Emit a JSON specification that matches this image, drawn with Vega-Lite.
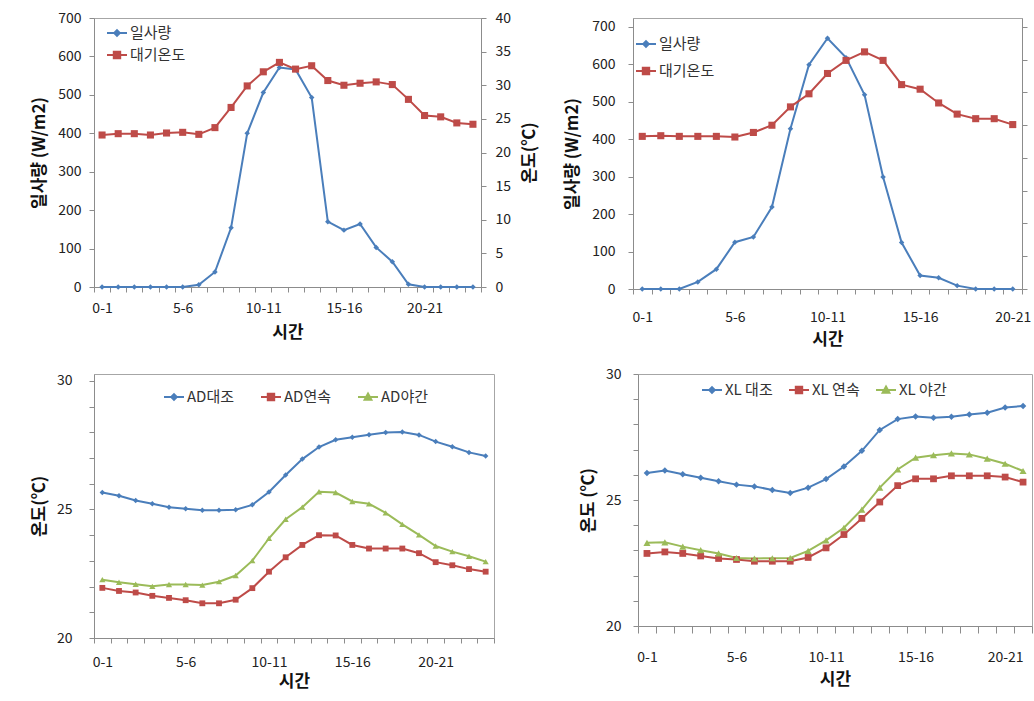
{
  "$schema": "https://vega.github.io/schema/vega-lite/v6.json",
  "background": "white",
  "padding": {"left": 29, "top": 10, "right": 0, "bottom": 0},
  "config": {
    "font": "Noto Sans CJK KR",
    "view": {"stroke": "#a6a6a6", "strokeWidth": 1},
    "axis": {
      "grid": false,
      "domainColor": "#8c8c8c",
      "tickColor": "#8c8c8c",
      "labelColor": "#222222",
      "labelFont": "Noto Sans CJK KR",
      "labelFontSize": 14,
      "titleFont": "Noto Sans CJK KR",
      "titleFontSize": 17,
      "titleFontWeight": "bold",
      "titleColor": "#111111",
      "tickSize": 5
    },
    "legend": {
      "labelFont": "Noto Sans CJK KR",
      "labelFontSize": 15,
      "labelColor": "#333333",
      "symbolSize": 400,
      "symbolStrokeWidth": 2,
      "labelOffset": 2
    }
  },
  "spacing": 18,
  "resolve": {"scale": {"color": "independent"}, "legend": {"color": "independent"}},
  "vconcat": [
    {
      "spacing": 24,
      "resolve": {"scale": {"color": "independent"}, "legend": {"color": "independent"}},
      "hconcat": [
        {
          "width": 387,
          "height": 269,
          "data": {"values": [
            {"t": "0-1", "rad": 0, "temp": 22.6},
            {"t": "1-2", "rad": 0, "temp": 22.8},
            {"t": "2-3", "rad": 0, "temp": 22.8},
            {"t": "3-4", "rad": 0, "temp": 22.6},
            {"t": "4-5", "rad": 0, "temp": 22.9},
            {"t": "5-6", "rad": 0, "temp": 23.0},
            {"t": "6-7", "rad": 6, "temp": 22.7},
            {"t": "7-8", "rad": 39, "temp": 23.7},
            {"t": "8-9", "rad": 154, "temp": 26.7},
            {"t": "9-10", "rad": 400, "temp": 29.9},
            {"t": "10-11", "rad": 506, "temp": 32.0},
            {"t": "11-12", "rad": 571, "temp": 33.4},
            {"t": "12-13", "rad": 566, "temp": 32.4},
            {"t": "13-14", "rad": 493, "temp": 32.9},
            {"t": "14-15", "rad": 170, "temp": 30.7},
            {"t": "15-16", "rad": 148, "temp": 30.0},
            {"t": "16-17", "rad": 164, "temp": 30.3},
            {"t": "17-18", "rad": 103, "temp": 30.5},
            {"t": "18-19", "rad": 66, "temp": 30.1},
            {"t": "19-20", "rad": 7, "temp": 27.9},
            {"t": "20-21", "rad": 0, "temp": 25.5},
            {"t": "21-22", "rad": 0, "temp": 25.3},
            {"t": "22-23", "rad": 0, "temp": 24.4},
            {"t": "23-24", "rad": 0, "temp": 24.2}
          ]},
          "encoding": {
            "x": {
              "field": "t", "type": "ordinal", "sort": null, "bandPosition": 0.5,
              "scale": {"type": "band", "paddingInner": 0, "paddingOuter": 0},
              "title": "시간",
              "axis": {"tickBand": "extent", "labelAngle": 0, "labelOverlap": false, "labelPadding": 9, "titlePadding": 9,
                "labelExpr": "indexof(['0-1','5-6','10-11','15-16','20-21'], datum.label) >= 0 ? datum.label : ''"}
            }
          },
          "layer": [
            {
              "encoding": {
                "y": {"field": "rad", "type": "quantitative", "scale": {"domain": [0, 700]}, "title": "일사량 (W/m2)",
                  "axis": {"values": [0, 100, 200, 300, 400, 500, 600, 700], "labelPadding": 8, "titlePadding": 9}},
                "color": {"datum": "일사량", "type": "nominal",
                  "scale": {"domain": ["일사량", "대기온도"], "range": ["#4a7ebb", "#be4b48"]},
                  "legend": {"title": null, "orient": "none", "legendX": 12, "legendY": 4, "rowPadding": 3,
                    "encode": {"symbols": {"update": {
                      "shape": {"signal": "datum.value === '일사량' ? 'M-1,0L1,0M0,-0.28L0.28,0L0,0.28L-0.28,0Z' : 'M-1,0L1,0M-0.32,-0.32L0.32,-0.32L0.32,0.32L-0.32,0.32Z'"},
                      "fill": {"signal": "datum.value === '일사량' ? '#4a7ebb' : '#be4b48'"},
                      "stroke": {"signal": "datum.value === '일사량' ? '#4a7ebb' : '#be4b48'"},
                      "strokeWidth": {"value": 2}, "opacity": {"value": 1}}}}}
                }
              },
              "layer": [
                {"mark": {"type": "line", "strokeWidth": 2}},
                {"mark": {"type": "point", "filled": true, "shape": "diamond", "size": 30, "opacity": 1}}
              ]
            },
            {
              "encoding": {
                "y": {"field": "temp", "type": "quantitative", "scale": {"domain": [0, 40]}, "title": "온도(℃)",
                  "axis": {"orient": "right", "values": [0, 5, 10, 15, 20, 25, 30, 35, 40], "titleAngle": 270, "titleBaseline": "top", "labelPadding": 9, "titlePadding": 11}},
                "color": {"datum": "대기온도", "type": "nominal"}
              },
              "layer": [
                {"mark": {"type": "line", "strokeWidth": 2}},
                {"mark": {"type": "point", "filled": true, "shape": "square", "size": 50, "opacity": 1}}
              ]
            }
          ],
          "resolve": {"scale": {"y": "independent"}}
        },
        {
          "width": 389,
          "height": 271,
          "data": {"values": [
            {"t": "0-1", "rad": 0, "temp": 23.3},
            {"t": "1-2", "rad": 0, "temp": 23.4},
            {"t": "2-3", "rad": 0, "temp": 23.3},
            {"t": "3-4", "rad": 19, "temp": 23.3},
            {"t": "4-5", "rad": 53, "temp": 23.3},
            {"t": "5-6", "rad": 125, "temp": 23.2},
            {"t": "6-7", "rad": 139, "temp": 23.9},
            {"t": "7-8", "rad": 219, "temp": 25.0},
            {"t": "8-9", "rad": 428, "temp": 27.8},
            {"t": "9-10", "rad": 599, "temp": 29.8},
            {"t": "10-11", "rad": 670, "temp": 32.9},
            {"t": "11-12", "rad": 618, "temp": 34.9},
            {"t": "12-13", "rad": 519, "temp": 36.2},
            {"t": "13-14", "rad": 299, "temp": 34.9},
            {"t": "14-15", "rad": 124, "temp": 31.2},
            {"t": "15-16", "rad": 36, "temp": 30.5},
            {"t": "16-17", "rad": 30, "temp": 28.4},
            {"t": "17-18", "rad": 9, "temp": 26.7},
            {"t": "18-19", "rad": 0, "temp": 26.0},
            {"t": "19-20", "rad": 0, "temp": 26.0},
            {"t": "20-21", "rad": 0, "temp": 25.1}
          ]},
          "encoding": {
            "x": {
              "field": "t", "type": "ordinal", "sort": null, "bandPosition": 0.5,
              "scale": {"type": "band", "paddingInner": 0, "paddingOuter": 0},
              "title": "시간",
              "axis": {"tickBand": "extent", "labelAngle": 0, "labelOverlap": false, "labelPadding": 16, "titlePadding": 7,
                "labelExpr": "indexof(['0-1','5-6','10-11','15-16','20-21'], datum.label) >= 0 ? datum.label : ''"}
            }
          },
          "layer": [
            {
              "encoding": {
                "y": {"field": "rad", "type": "quantitative", "scale": {"domain": [0, 724]}, "title": "일사량 (W/m2)",
                  "axis": {"values": [0, 100, 200, 300, 400, 500, 600, 700], "labelPadding": 13, "titlePadding": 10}},
                "color": {"datum": "일사량", "type": "nominal",
                  "scale": {"domain": ["일사량", "대기온도"], "range": ["#4a7ebb", "#be4b48"]},
                  "legend": {"title": null, "orient": "none", "legendX": 2, "legendY": 15, "rowPadding": 8,
                    "encode": {"symbols": {"update": {
                      "shape": {"signal": "datum.value === '일사량' ? 'M-1,0L1,0M0,-0.28L0.28,0L0,0.28L-0.28,0Z' : 'M-1,0L1,0M-0.32,-0.32L0.32,-0.32L0.32,0.32L-0.32,0.32Z'"},
                      "fill": {"signal": "datum.value === '일사량' ? '#4a7ebb' : '#be4b48'"},
                      "stroke": {"signal": "datum.value === '일사량' ? '#4a7ebb' : '#be4b48'"},
                      "strokeWidth": {"value": 2}, "opacity": {"value": 1}}}}}
                }
              },
              "layer": [
                {"mark": {"type": "line", "strokeWidth": 2}},
                {"mark": {"type": "point", "filled": true, "shape": "diamond", "size": 30, "opacity": 1}}
              ]
            },
            {
              "encoding": {
                "y": {"field": "temp", "type": "quantitative", "scale": {"domain": [0, 41.37]}, "title": null,
                  "axis": {"orient": "right", "values": [0, 5, 10, 15, 20, 25, 30, 35, 40], "labels": false}},
                "color": {"datum": "대기온도", "type": "nominal"}
              },
              "layer": [
                {"mark": {"type": "line", "strokeWidth": 2}},
                {"mark": {"type": "point", "filled": true, "shape": "square", "size": 50, "opacity": 1}}
              ]
            }
          ],
          "resolve": {"scale": {"y": "independent"}}
        }
      ]
    },
    {
      "spacing": 83,
      "resolve": {"scale": {"color": "independent"}, "legend": {"color": "independent"}},
      "hconcat": [
        {
          "width": 400,
          "height": 264,
          "data": {"values": [
            {"t": "0-1", "AD대조": 25.66, "AD연속": 21.95, "AD야간": 22.27},
            {"t": "1-2", "AD대조": 25.53, "AD연속": 21.83, "AD야간": 22.17},
            {"t": "2-3", "AD대조": 25.35, "AD연속": 21.77, "AD야간": 22.09},
            {"t": "3-4", "AD대조": 25.22, "AD연속": 21.64, "AD야간": 22.01},
            {"t": "4-5", "AD대조": 25.09, "AD연속": 21.56, "AD야간": 22.08},
            {"t": "5-6", "AD대조": 25.03, "AD연속": 21.47, "AD야간": 22.08},
            {"t": "6-7", "AD대조": 24.97, "AD연속": 21.35, "AD야간": 22.06},
            {"t": "7-8", "AD대조": 24.97, "AD연속": 21.35, "AD야간": 22.19},
            {"t": "8-9", "AD대조": 24.99, "AD연속": 21.49, "AD야간": 22.43},
            {"t": "9-10", "AD대조": 25.18, "AD연속": 21.94, "AD야간": 23.01},
            {"t": "10-11", "AD대조": 25.68, "AD연속": 22.58, "AD야간": 23.88},
            {"t": "11-12", "AD대조": 26.34, "AD연속": 23.14, "AD야간": 24.62},
            {"t": "12-13", "AD대조": 26.96, "AD연속": 23.62, "AD야간": 25.09},
            {"t": "13-14", "AD대조": 27.43, "AD연속": 24.0, "AD야간": 25.69},
            {"t": "14-15", "AD대조": 27.71, "AD연속": 23.99, "AD야간": 25.66},
            {"t": "15-16", "AD대조": 27.81, "AD연속": 23.62, "AD야간": 25.31},
            {"t": "16-17", "AD대조": 27.91, "AD연속": 23.48, "AD야간": 25.22},
            {"t": "17-18", "AD대조": 27.99, "AD연속": 23.48, "AD야간": 24.87},
            {"t": "18-19", "AD대조": 28.01, "AD연속": 23.48, "AD야간": 24.42},
            {"t": "19-20", "AD대조": 27.9, "AD연속": 23.3, "AD야간": 24.01},
            {"t": "20-21", "AD대조": 27.64, "AD연속": 22.95, "AD야간": 23.58},
            {"t": "21-22", "AD대조": 27.44, "AD연속": 22.83, "AD야간": 23.36},
            {"t": "22-23", "AD대조": 27.22, "AD연속": 22.68, "AD야간": 23.18},
            {"t": "23-24", "AD대조": 27.08, "AD연속": 22.58, "AD야간": 22.97}
          ]},
          "transform": [{"fold": ["AD대조", "AD연속", "AD야간"], "as": ["s", "v"]}],
          "encoding": {
            "x": {
              "field": "t", "type": "ordinal", "sort": null, "bandPosition": 0.5,
              "scale": {"type": "band", "paddingInner": 0, "paddingOuter": 0},
              "title": "시간",
              "axis": {"tickBand": "extent", "labelAngle": 0, "labelOverlap": false, "labelPadding": 12, "titlePadding": 4,
                "labelExpr": "indexof(['0-1','5-6','10-11','15-16','20-21'], datum.label) >= 0 ? datum.label : ''"}
            },
            "y": {"field": "v", "type": "quantitative", "scale": {"domain": [20, 30.27]}, "title": "온도(℃)",
              "axis": {"values": [20, 20.5, 21, 21.5, 22, 22.5, 23, 23.5, 24, 24.5, 25, 25.5, 26, 26.5, 27, 27.5, 28, 28.5, 29, 29.5, 30],
                "format": "d", "labelExpr": "datum.value % 5 === 0 ? datum.label : ''", "labelOverlap": false, "labelPadding": 17, "titlePadding": 8}},
            "color": {"field": "s", "type": "nominal",
              "scale": {"domain": ["AD대조", "AD연속", "AD야간"], "range": ["#4a7ebb", "#be4b48", "#9bbb59"]},
              "legend": {"title": null, "orient": "none", "direction": "horizontal", "legendX": 69, "legendY": 12, "columnPadding": 22,
                "encode": {"symbols": {"update": {
                  "shape": {"signal": "datum.value === 'AD대조' ? 'M-1,0L1,0M0,-0.28L0.28,0L0,0.28L-0.28,0Z' : datum.value === 'AD연속' ? 'M-1,0L1,0M-0.32,-0.32L0.32,-0.32L0.32,0.32L-0.32,0.32Z' : 'M-1,0L1,0M0,-0.34L0.34,0.28L-0.34,0.28Z'"},
                  "fill": {"signal": "datum.value === 'AD대조' ? '#4a7ebb' : datum.value === 'AD연속' ? '#be4b48' : '#9bbb59'"},
                  "stroke": {"signal": "datum.value === 'AD대조' ? '#4a7ebb' : datum.value === 'AD연속' ? '#be4b48' : '#9bbb59'"},
                  "strokeWidth": {"value": 2}, "opacity": {"value": 1}}}}}
            },
            "shape": {"field": "s", "type": "nominal",
              "scale": {"domain": ["AD대조", "AD연속", "AD야간"], "range": ["diamond", "square", "triangle-up"]}, "legend": null},
            "size": {"field": "s", "type": "nominal",
              "scale": {"domain": ["AD대조", "AD연속", "AD야간"], "range": [30, 50, 45]}, "legend": null}
          },
          "layer": [
            {"mark": {"type": "line", "strokeWidth": 2}, "encoding": {"shape": {"value": null}, "size": {"value": 2}}},
            {"mark": {"type": "point", "filled": true, "opacity": 1}}
          ]
        },
        {
          "width": 394,
          "height": 252,
          "data": {"values": [
            {"t": "0-1", "XL 대조": 26.07, "XL 연속": 22.88, "XL 야간": 23.3},
            {"t": "1-2", "XL 대조": 26.17, "XL 연속": 22.94, "XL 야간": 23.32},
            {"t": "2-3", "XL 대조": 26.02, "XL 연속": 22.88, "XL 야간": 23.15},
            {"t": "3-4", "XL 대조": 25.88, "XL 연속": 22.78, "XL 야간": 23.01},
            {"t": "4-5", "XL 대조": 25.74, "XL 연속": 22.68, "XL 야간": 22.88},
            {"t": "5-6", "XL 대조": 25.61, "XL 연속": 22.64, "XL 야간": 22.7},
            {"t": "6-7", "XL 대조": 25.54, "XL 연속": 22.57, "XL 야간": 22.68},
            {"t": "7-8", "XL 대조": 25.4, "XL 연속": 22.57, "XL 야간": 22.69},
            {"t": "8-9", "XL 대조": 25.28, "XL 연속": 22.57, "XL 야간": 22.7},
            {"t": "9-10", "XL 대조": 25.49, "XL 연속": 22.72, "XL 야간": 22.98},
            {"t": "10-11", "XL 대조": 25.83, "XL 연속": 23.1, "XL 야간": 23.4},
            {"t": "11-12", "XL 대조": 26.33, "XL 연속": 23.63, "XL 야간": 23.9},
            {"t": "12-13", "XL 대조": 26.95, "XL 연속": 24.27, "XL 야간": 24.62},
            {"t": "13-14", "XL 대조": 27.78, "XL 연속": 24.92, "XL 야간": 25.49},
            {"t": "14-15", "XL 대조": 28.21, "XL 연속": 25.57, "XL 야간": 26.21},
            {"t": "15-16", "XL 대조": 28.31, "XL 연속": 25.84, "XL 야간": 26.68},
            {"t": "16-17", "XL 대조": 28.26, "XL 연속": 25.84, "XL 야간": 26.78},
            {"t": "17-18", "XL 대조": 28.3, "XL 연속": 25.96, "XL 야간": 26.85},
            {"t": "18-19", "XL 대조": 28.39, "XL 연속": 25.96, "XL 야간": 26.81},
            {"t": "19-20", "XL 대조": 28.46, "XL 연속": 25.96, "XL 야간": 26.64},
            {"t": "20-21", "XL 대조": 28.67, "XL 연속": 25.91, "XL 야간": 26.44},
            {"t": "21-22", "XL 대조": 28.73, "XL 연속": 25.71, "XL 야간": 26.15}
          ]},
          "transform": [{"fold": ["XL 대조", "XL 연속", "XL 야간"], "as": ["s", "v"]}],
          "encoding": {
            "x": {
              "field": "t", "type": "ordinal", "sort": null, "bandPosition": 0.5,
              "scale": {"type": "band", "paddingInner": 0, "paddingOuter": 0},
              "title": "시간",
              "axis": {"tickBand": "extent", "labelAngle": 0, "labelOverlap": false, "tickSize": 7, "labelPadding": 17, "titlePadding": 7,
                "labelExpr": "indexof(['0-1','5-6','10-11','15-16','20-21'], datum.label) >= 0 ? datum.label : ''"}
            },
            "y": {"field": "v", "type": "quantitative", "scale": {"domain": [20, 30]}, "title": "온도 (℃)",
              "axis": {"values": [20, 20.5, 21, 21.5, 22, 22.5, 23, 23.5, 24, 24.5, 25, 25.5, 26, 26.5, 27, 27.5, 28, 28.5, 29, 29.5, 30],
                "format": "d", "labelExpr": "datum.value % 5 === 0 ? datum.label : ''", "labelOverlap": false, "labelPadding": 12, "titlePadding": 8}},
            "color": {"field": "s", "type": "nominal",
              "scale": {"domain": ["XL 대조", "XL 연속", "XL 야간"], "range": ["#4a7ebb", "#be4b48", "#9bbb59"]},
              "legend": {"title": null, "orient": "none", "direction": "horizontal", "legendX": 63, "legendY": 5, "columnPadding": 12,
                "encode": {"symbols": {"update": {
                  "shape": {"signal": "datum.value === 'XL 대조' ? 'M-1,0L1,0M0,-0.28L0.28,0L0,0.28L-0.28,0Z' : datum.value === 'XL 연속' ? 'M-1,0L1,0M-0.32,-0.32L0.32,-0.32L0.32,0.32L-0.32,0.32Z' : 'M-1,0L1,0M0,-0.34L0.34,0.28L-0.34,0.28Z'"},
                  "fill": {"signal": "datum.value === 'XL 대조' ? '#4a7ebb' : datum.value === 'XL 연속' ? '#be4b48' : '#9bbb59'"},
                  "stroke": {"signal": "datum.value === 'XL 대조' ? '#4a7ebb' : datum.value === 'XL 연속' ? '#be4b48' : '#9bbb59'"},
                  "strokeWidth": {"value": 2}, "opacity": {"value": 1}}}}}
            },
            "shape": {"field": "s", "type": "nominal",
              "scale": {"domain": ["XL 대조", "XL 연속", "XL 야간"], "range": ["diamond", "square", "triangle-up"]}, "legend": null},
            "size": {"field": "s", "type": "nominal",
              "scale": {"domain": ["XL 대조", "XL 연속", "XL 야간"], "range": [30, 50, 45]}, "legend": null}
          },
          "layer": [
            {"mark": {"type": "line", "strokeWidth": 2}, "encoding": {"shape": {"value": null}, "size": {"value": 2}}},
            {"mark": {"type": "point", "filled": true, "opacity": 1}}
          ]
        }
      ]
    }
  ]
}
